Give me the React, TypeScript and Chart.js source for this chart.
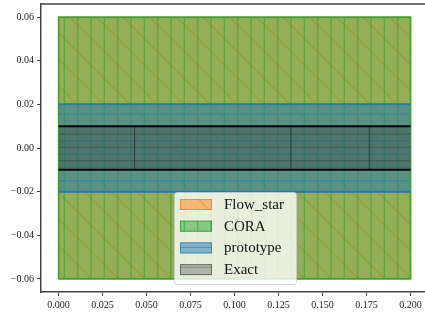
import React, { useEffect, useRef } from 'react';
import { Chart, registerables } from 'chart.js';

Chart.register(...registerables);

// ---- data ----
const seriesNames = ['Flow_star', 'CORA', 'prototype', 'Exact'];
const timeRange = [0, 0.2];
const flowStarBounds = [-0.06, 0.06];
const coraBounds = [-0.06, 0.06];
const prototypeBounds = [-0.02, 0.02];
const exactBounds = [-0.01, 0.01];
const exactSplits = [0.0432, 0.132, 0.1765];
const xTickValues = [0, 0.025, 0.05, 0.075, 0.1, 0.125, 0.15, 0.175, 0.2];
const xTickLabels = ['0.000', '0.025', '0.050', '0.075', '0.100', '0.125', '0.150', '0.175', '0.200'];
const yTickValues = [-0.06, -0.04, -0.02, 0, 0.02, 0.04, 0.06];
const yTickLabels = ['\u22120.06', '\u22120.04', '\u22120.02', '0.00', '0.02', '0.04', '0.06'];

const FONT = "'Liberation Serif', 'DejaVu Serif', serif";

type Kind = 'diag' | 'vert' | 'horiz';

function makePattern(fill: string, line: string, kind: Kind, offset: number, lw: number) {
  const T = 80;
  const c = document.createElement('canvas');
  c.width = T;
  c.height = T;
  const g = c.getContext('2d')!;
  g.fillStyle = fill;
  g.fillRect(0, 0, T, T);
  g.strokeStyle = line;
  g.lineWidth = lw;
  g.beginPath();
  if (kind === 'vert' || kind === 'horiz') {
    const step = T / 6;
    for (let k = -1; k <= 7; k++) {
      const p = offset + k * step;
      if (kind === 'vert') {
        g.moveTo(p, -2);
        g.lineTo(p, T + 2);
      } else {
        g.moveTo(-2, p);
        g.lineTo(T + 2, p);
      }
    }
  } else {
    const step = T / 3;
    for (let k = -8; k <= 8; k++) {
      const x0 = offset + k * step;
      g.moveTo(x0 - 20, -20);
      g.lineTo(x0 + T + 20, T + 20);
    }
  }
  g.stroke();
  return g.createPattern(c, 'repeat')!;
}

export default function App() {
  const ref = useRef<HTMLCanvasElement>(null);

  useEffect(() => {
    document.body.style.margin = '0';
    const canvas = ref.current!;

    const pFlow = makePattern('rgba(255,127,14,0.5)', 'rgba(255,127,14,0.5)', 'diag', 25.97, 1.3);
    const pCora = makePattern('rgba(44,160,44,0.5)', 'rgba(44,160,44,0.5)', 'vert', 10.97, 1.4);
    const pProto = makePattern('rgba(31,119,180,0.5)', 'rgba(31,119,180,0.45)', 'horiz', 7.4, 1.3);
    const pExact = makePattern('rgba(57,57,57,0.32)', 'rgba(0,0,0,0.18)', 'horiz', 0.67, 1.3);

    const [t0, t1] = timeRange;

    const fillBox = (label: string, b: number[], bg: CanvasPattern, order: number) => ({
      label,
      data: [
        { x: t0, y: b[1] },
        { x: t1, y: b[1] },
      ],
      backgroundColor: bg,
      borderColor: 'rgba(0,0,0,0)',
      borderWidth: 0,
      fill: { value: b[0] },
      pointRadius: 0,
      order,
    });
    const edge = (pts: { x: number; y: number }[], color: string, width: number, order: number) => ({
      label: '',
      data: pts,
      backgroundColor: 'rgba(0,0,0,0)',
      borderColor: color,
      borderWidth: width,
      fill: false,
      pointRadius: 0,
      order,
    });
    const outline = (b: number[]) => [
      { x: t0, y: b[0] },
      { x: t0, y: b[1] },
      { x: t1, y: b[1] },
      { x: t1, y: b[0] },
      { x: t0, y: b[0] },
    ];

    const datasets: any[] = [
      fillBox(seriesNames[0], flowStarBounds, pFlow, 100),
      edge(outline(flowStarBounds), 'rgba(255,127,14,0.6)', 1.4, 99),
      fillBox(seriesNames[1], coraBounds, pCora, 90),
      edge(outline(coraBounds), 'rgba(44,160,44,0.85)', 1.6, 89),
      fillBox(seriesNames[2], prototypeBounds, pProto, 80),
      edge([{ x: t0, y: prototypeBounds[1] }, { x: t1, y: prototypeBounds[1] }], 'rgba(31,119,180,0.95)', 2, 79),
      edge([{ x: t0, y: prototypeBounds[0] }, { x: t1, y: prototypeBounds[0] }], 'rgba(31,119,180,0.95)', 2, 78),
      fillBox(seriesNames[3], exactBounds, pExact, 70),
    ];
    exactSplits.forEach((s, i) => {
      datasets.push(edge([{ x: s, y: exactBounds[0] }, { x: s, y: exactBounds[1] }], 'rgba(20,20,20,0.55)', 1, 60 - i));
    });
    datasets.push(edge([{ x: t0, y: exactBounds[1] }, { x: t1, y: exactBounds[1] }], 'rgba(0,0,0,0.95)', 2, 50));
    datasets.push(edge([{ x: t0, y: exactBounds[0] }, { x: t1, y: exactBounds[0] }], 'rgba(0,0,0,0.95)', 2, 49));

    const legendItems = [
      { name: seriesNames[0], fill: pFlow, edge: 'rgba(255,127,14,0.7)' },
      { name: seriesNames[1], fill: pCora, edge: 'rgba(44,160,44,0.8)' },
      { name: seriesNames[2], fill: pProto, edge: 'rgba(31,119,180,0.7)' },
      { name: seriesNames[3], fill: pExact, edge: 'rgba(60,60,60,0.6)' },
    ];

    const framePlugin = {
      id: 'frameAndLegend',
      afterDraw(chart: any) {
        const { ctx, chartArea } = chart;
        ctx.save();
        // top spine
        ctx.strokeStyle = '#444';
        ctx.lineWidth = 1.5;
        ctx.beginPath();
        ctx.moveTo(chartArea.left - 0.75, chartArea.top);
        ctx.lineTo(chartArea.right, chartArea.top);
        ctx.stroke();

        // legend box
        const bx = 174.5, by = 192.5, bw = 122, bh = 92, r = 3;
        ctx.beginPath();
        ctx.moveTo(bx + r, by);
        ctx.lineTo(bx + bw - r, by);
        ctx.quadraticCurveTo(bx + bw, by, bx + bw, by + r);
        ctx.lineTo(bx + bw, by + bh - r);
        ctx.quadraticCurveTo(bx + bw, by + bh, bx + bw - r, by + bh);
        ctx.lineTo(bx + r, by + bh);
        ctx.quadraticCurveTo(bx, by + bh, bx, by + bh - r);
        ctx.lineTo(bx, by + r);
        ctx.quadraticCurveTo(bx, by, bx + r, by);
        ctx.closePath();
        ctx.fillStyle = 'rgba(255,255,255,0.8)';
        ctx.fill();
        ctx.strokeStyle = 'rgba(204,204,204,0.8)';
        ctx.lineWidth = 1;
        ctx.stroke();

        ctx.font = `15px ${FONT}`;
        ctx.textBaseline = 'middle';
        ctx.textAlign = 'left';
        legendItems.forEach((it, i) => {
          const py = 199 + i * 21.7;
          ctx.fillStyle = it.fill;
          ctx.fillRect(180, py, 32, 11);
          ctx.strokeStyle = it.edge;
          ctx.lineWidth = 1;
          ctx.strokeRect(180.5, py + 0.5, 31, 10);
          ctx.fillStyle = '#111';
          ctx.fillText(it.name, 224, py + 6);
        });
        ctx.restore();
      },
    };

    const chart = new Chart(canvas, {
      type: 'line',
      data: { datasets },
      options: {
        animation: false,
        responsive: false,
        devicePixelRatio: 1,
        layout: { padding: { top: 4, left: 0, right: 0, bottom: 0 }, autoPadding: false },
        plugins: {
          legend: { display: false },
          tooltip: { enabled: false },
          filler: { drawTime: 'beforeDatasetDraw' },
        },
        scales: {
          x: {
            type: 'linear',
            min: -0.01,
            max: 0.2082,
            afterBuildTicks: (s: any) => {
              s.ticks = xTickValues.map((v) => ({ value: v }));
            },
            afterFit: (s: any) => {
              s.height = 21;
              s.paddingLeft = 0;
              s.paddingRight = 0;
            },
            ticks: {
              autoSkip: false,
              maxRotation: 0,
              padding: 3,
              color: '#222',
              font: { family: FONT, size: 10 },
              callback: (_v: any, i: number) => xTickLabels[i],
            },
            grid: { drawOnChartArea: false, drawTicks: true, tickLength: 4, color: '#444', lineWidth: 1 },
            border: { display: true, color: '#444', width: 1.5 },
          },
          y: {
            type: 'linear',
            min: -0.066,
            max: 0.066,
            afterBuildTicks: (s: any) => {
              s.ticks = yTickValues.map((v) => ({ value: v }));
            },
            afterFit: (s: any) => {
              s.width = 41;
              s.paddingTop = 0;
              s.paddingBottom = 0;
            },
            ticks: {
              autoSkip: false,
              padding: 3,
              color: '#222',
              font: { family: FONT, size: 10 },
              callback: (_v: any, i: number) => yTickLabels[i],
            },
            grid: { drawOnChartArea: false, drawTicks: true, tickLength: 4, color: '#444', lineWidth: 1 },
            border: { display: true, color: '#444', width: 1.5 },
          },
        },
      } as any,
      plugins: [framePlugin],
    });

    return () => chart.destroy();
  }, []);

  return (
    <div style={{ width: 425, height: 313, overflow: 'hidden' }}>
      <canvas ref={ref} width={425} height={313} style={{ display: 'block' }} />
    </div>
  );
}
